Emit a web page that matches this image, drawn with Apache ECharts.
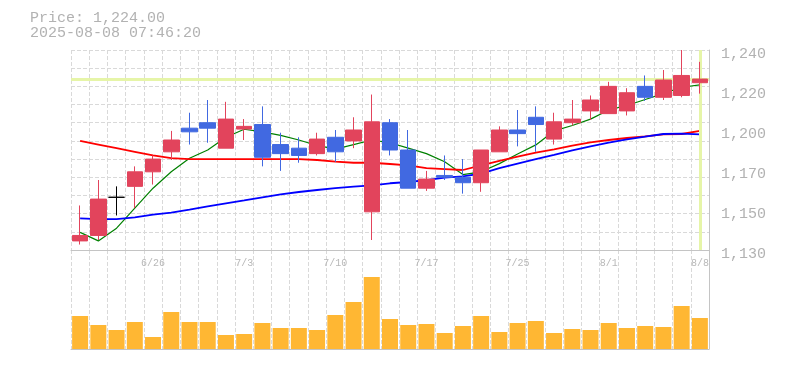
<!DOCTYPE html>
<html>
<head>
<meta charset="utf-8">
<script src="https://cdn.jsdelivr.net/npm/echarts@6/dist/echarts.min.js"></script>
<style>
html,body{margin:0;padding:0;background:#fff;}
#c{width:785px;height:370px;}
</style>
</head>
<body>
<div id="c"></div>
<script>
const dates = ['6/20','6/23','6/24','6/25','6/26','6/27','6/30','7/1','7/2','7/3','7/4','7/7','7/8','7/9','7/10','7/11','7/14','7/15','7/16','7/17','7/18','7/22','7/23','7/24','7/25','7/28','7/29','7/30','7/31','8/1','8/4','8/5','8/6','8/7','8/8'];
const opens  = [1135,1138,1159,1165,1173,1184,1197,1200,1186,1196.5,1199,1188,1186,1183,1192,1190,1151,1200,1185,1164,1171,1170,1167,1184,1196,1203,1191,1200,1206.5,1205,1206.5,1220,1214,1215,1222];
const closes = [1138,1158,1159,1173,1180,1190.5,1195,1197,1202,1198,1181,1183,1182,1191,1184,1196,1200.5,1185,1164,1169,1170,1167,1185,1196,1194,1199,1200.5,1202,1212.5,1220,1216.5,1214,1223.5,1226,1224];
const lows   = [1133,1135.5,1149,1153,1166,1179.5,1188,1189,1186,1190.5,1176,1173.5,1178,1182,1178.5,1186,1135.5,1182,1164,1162.5,1168.5,1161,1162,1184,1187,1184,1188,1198.5,1201.5,1205,1204,1212,1212.5,1214,1216];
const highs  = [1154.5,1168.5,1165,1176,1182,1195.5,1205.5,1212.5,1211.5,1202,1209,1194.5,1192,1194.5,1196,1203,1215.5,1202,1196,1173.5,1182,1180,1185,1198,1207,1209,1205.5,1212.5,1215,1222.5,1219,1226,1229,1240,1233.5];
const ma5    = [1139.7,1135,1142,1153,1164,1173,1180.5,1185,1192,1196.4,1195,1193,1190.5,1187.5,1185.5,1188,1190.5,1189,1186,1183,1178.5,1171.5,1173,1177.5,1182.8,1187.8,1195.5,1198.5,1202,1207,1209.5,1212.8,1216,1219.5,1220.8];
const ma25   = [1190,1188,1186,1184,1182,1180.5,1180,1180,1180,1180,1180,1180,1180,1179.5,1178.6,1178,1178,1177.3,1176.5,1175,1174.5,1174,1176.5,1179,1181.3,1183.5,1185.4,1187.4,1189.2,1190.5,1191.6,1192.5,1193.6,1193.8,1195.5];
const ma75   = [1147.4,1147,1147,1148,1149.4,1150.5,1152.2,1154,1155.7,1157.3,1159,1160.6,1161.9,1163,1164,1164.8,1165.6,1166.7,1167.4,1168.4,1169.8,1170.5,1172,1175,1177.5,1180,1182.3,1184.8,1187,1189,1190.8,1192.4,1193.8,1194,1193.6];
const volumes = [33,24,19,27,12,37,27,27,14,15,26,21,21,19,34,47,72,30,24,25,16,23,33,17,26,28,16,20,19,26,21,23,22,43,31];
const yTickLabels = ['1,130','1,150','1,170','1,200','1,220','1,240'];
const lastPrice = 1224;
const titleText = 'Price: 1,224.00\n2025-08-08 07:46:20';

const candleData = dates.map((d, i) => [opens[i], closes[i], lows[i], highs[i]]);
const mono = 'Liberation Mono';
const gridLine = {show: true, lineStyle: {color: '#d9d9d9', type: [4, 2], width: 1}};
const axisLineStyle = {show: true, lineStyle: {color: '#c4c4c4', width: 1}};

const chart = echarts.init(document.getElementById('c'), null, {renderer: 'canvas'});
chart.setOption({
  animation: false,
  backgroundColor: '#ffffff',
  title: {
    text: titleText, left: 30, top: 11, padding: 0,
    textStyle: {fontFamily: mono, fontSize: 15, lineHeight: 15, color: '#b2b2b2', fontWeight: 'normal'}
  },
  grid: [
    {left: 71, width: 638, top: 50, height: 200},
    {left: 71, width: 638, top: 250, height: 99}
  ],
  xAxis: [
    {type: 'category', gridIndex: 0, data: dates, boundaryGap: true,
     axisLine: axisLineStyle, axisTick: {show: false, interval: 0},
     axisLabel: {interval: (i) => i % 5 === 4, fontFamily: mono, fontSize: 10, color: '#b8b8b8', margin: 8},
     splitLine: Object.assign({interval: 0}, gridLine)},
    {type: 'category', gridIndex: 1, data: dates, boundaryGap: true,
     axisLine: axisLineStyle, axisTick: {show: false}, axisLabel: {show: false},
     splitLine: Object.assign({interval: 0}, gridLine)}
  ],
  yAxis: [
    {type: 'value', gridIndex: 0, min: 1130, max: 1240, interval: 10, position: 'right',
     axisLine: axisLineStyle, axisTick: {show: false}, axisLabel: {show: false}, splitLine: gridLine},
    {type: 'value', gridIndex: 0, min: 0, max: 5, interval: 1, position: 'right',
     axisLine: {show: false}, axisTick: {show: false}, splitLine: {show: false},
     axisLabel: {formatter: (v) => yTickLabels[Math.round(v)], fontFamily: mono, fontSize: 15, color: '#b2b2b2', margin: 12, verticalAlign: 'top', lineHeight: 8}},
    {type: 'value', gridIndex: 1, min: 0, max: 99, position: 'right',
     axisLine: axisLineStyle, axisTick: {show: false}, axisLabel: {show: false}, splitLine: {show: false}}
  ],
  series: [
    {name: 'MA5', type: 'line', xAxisIndex: 0, yAxisIndex: 0, data: ma5, showSymbol: false, z: 2,
     lineStyle: {color: '#008000', width: 1.2},
     markLine: {silent: true, symbol: ['none', 'none'], label: {show: false},
       lineStyle: {color: '#e6f5a8', width: 3, type: 'solid'},
       data: [{yAxis: lastPrice}, {xAxis: dates[dates.length - 1]}]}},
    {name: 'MA25', type: 'line', xAxisIndex: 0, yAxisIndex: 0, data: ma25, showSymbol: false, z: 2,
     lineStyle: {color: '#ff0000', width: 1.8}},
    {name: 'MA75', type: 'line', xAxisIndex: 0, yAxisIndex: 0, data: ma75, showSymbol: false, z: 2,
     lineStyle: {color: '#0000ff', width: 1.8}},
    {name: 'Price', type: 'candlestick', xAxisIndex: 0, yAxisIndex: 0, data: candleData, barWidth: 16, z: 5, clip: false,
     itemStyle: {color: '#e2445c', color0: '#4169e1', borderColor: '#e2445c', borderColor0: '#4169e1', borderColorDoji: '#000000', borderWidth: 1}},
    {name: 'Volume', type: 'bar', xAxisIndex: 1, yAxisIndex: 2, data: volumes, barWidth: 16,
     itemStyle: {color: '#ffb733'}}
  ]
});
</script>
</body>
</html>
